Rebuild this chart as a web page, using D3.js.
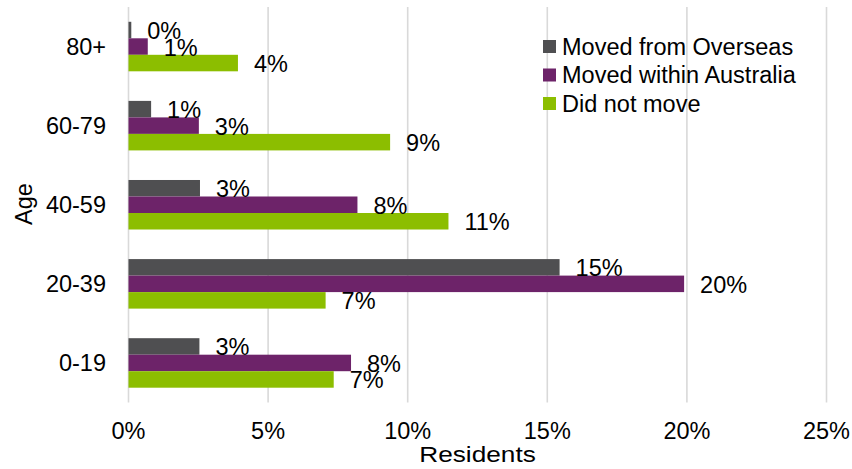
<!DOCTYPE html>
<html>
<head>
<meta charset="utf-8">
<script src="https://cdn.jsdelivr.net/npm/d3@7"></script>
<style>
  html, body { margin: 0; padding: 0; background: #ffffff; }
  svg { display: block; font-family: "Liberation Sans", Arial, sans-serif; }
</style>
</head>
<body>
<svg id="chart" width="852" height="469"></svg>
<script>
// Share of residents by age group and migration status (percent)
const ages = ["0-19", "20-39", "40-59", "60-79", "80+"];
const seriesNames = ["Moved from Overseas", "Moved within Australia", "Did not move"];
const overseas = [2.54, 15.44, 2.56, 0.81, 0.1];
const withinAus = [7.97, 19.9, 8.2, 2.52, 0.69];
const didNotMove = [7.35, 7.06, 11.46, 9.37, 3.92];
const xTicks = [0, 5, 10, 15, 20, 25];
const colors = ["#4f4f51", "#6d2369", "#8cbe00"];

const seriesValues = [overseas, withinAus, didNotMove];
const rows = ages.map((age, i) => ({
  age,
  values: seriesNames.map((s, k) => ({ series: s, k, value: seriesValues[k][i] }))
}));

const svg = d3.select("#chart");
const fontSize = 23.5;

const x = d3.scaleLinear().domain([0, 25]).range([128.5, 826.5]);
const y = d3.scaleBand()
  .domain(ages.slice().reverse())
  .range([7, 402.5])
  .paddingInner(0.374)
  .paddingOuter(0.187);
const ySub = d3.scaleBand().domain(seriesNames).range([0, y.bandwidth()]);

// vertical gridlines
svg.append("g")
  .selectAll("line")
  .data(xTicks)
  .join("line")
  .attr("x1", d => x(d)).attr("x2", d => x(d))
  .attr("y1", 7).attr("y2", 402.5)
  .attr("stroke", "#d9d9d9")
  .attr("stroke-width", 1.6);

// x axis labels
svg.append("g")
  .selectAll("text")
  .data(xTicks)
  .join("text")
  .attr("x", d => x(d))
  .attr("y", 430.5)
  .attr("text-anchor", "middle")
  .attr("dominant-baseline", "central")
  .attr("font-size", fontSize)
  .attr("fill", "#000")
  .text(d => d + "%");

// y axis labels
svg.append("g")
  .selectAll("text")
  .data(ages)
  .join("text")
  .attr("x", 106)
  .attr("y", d => y(d) + y.bandwidth() / 2)
  .attr("text-anchor", "end")
  .attr("dominant-baseline", "central")
  .attr("font-size", fontSize)
  .attr("fill", "#000")
  .text(d => d);

// bars and value labels
const groups = svg.append("g")
  .selectAll("g")
  .data(rows)
  .join("g")
  .attr("transform", d => `translate(0,${y(d.age)})`);

groups.selectAll("rect")
  .data(d => d.values)
  .join("rect")
  .attr("x", x(0))
  .attr("y", d => ySub(d.series))
  .attr("width", d => x(d.value) - x(0))
  .attr("height", ySub.bandwidth())
  .attr("fill", d => colors[d.k]);

groups.selectAll("text")
  .data(d => d.values)
  .join("text")
  .attr("x", d => x(d.value) + 16)
  .attr("y", d => ySub(d.series) + ySub.bandwidth() / 2 + 1)
  .attr("dominant-baseline", "central")
  .attr("font-size", fontSize)
  .attr("fill", "#000")
  .text(d => Math.round(d.value) + "%");

// axis titles
svg.append("text")
  .attr("transform", "translate(477.5,461.5) scale(1.22,1)")
  .attr("text-anchor", "middle")
  .attr("font-size", 21.5)
  .attr("fill", "#000")
  .text("Residents");

svg.append("text")
  .attr("transform", "translate(24,204) rotate(-90)")
  .attr("text-anchor", "middle")
  .attr("dominant-baseline", "central")
  .attr("font-size", fontSize)
  .attr("fill", "#000")
  .text("Age");

// legend
const legend = svg.append("g")
  .selectAll("g")
  .data(seriesNames)
  .join("g")
  .attr("transform", (d, i) => `translate(543,${46.5 + i * 28.5})`);

legend.append("rect")
  .attr("x", 0).attr("y", -6.5)
  .attr("width", 13).attr("height", 13)
  .attr("fill", (d, i) => colors[i]);

legend.append("text")
  .attr("x", 19)
  .attr("y", 0)
  .attr("dominant-baseline", "central")
  .attr("font-size", fontSize)
  .attr("fill", "#000")
  .text(d => d);
</script>
</body>
</html>
